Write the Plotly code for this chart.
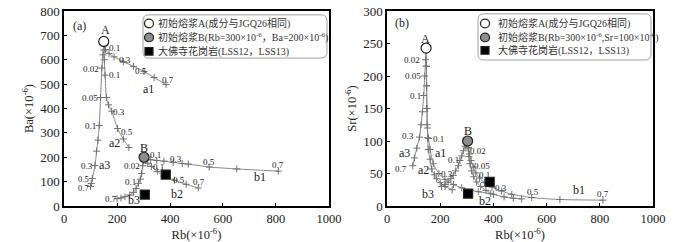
import plotly.graph_objects as go

# ---------------- Panel (a): Rb vs Ba ----------------
a_start_rb = [150]
a_start_ba = [675]
b_start_rb = [302]
b_start_ba = [200]

pa_a1_rb = [150, 153, 157, 170, 189, 224, 262, 302, 340, 385]
pa_a1_ba = [675, 660, 642, 625, 612, 592, 573, 552, 527, 498]
pa_a2_rb = [150, 151, 152, 155, 160, 168, 180, 202, 224, 245]
pa_a2_ba = [675, 640, 600, 537, 445, 415, 389, 318, 275, 240]
pa_a3_rb = [150, 147, 143, 138, 133, 128, 123, 117, 107, 103, 100]
pa_a3_ba = [675, 620, 566, 445, 330, 270, 225, 166, 113, 92, 80]
pa_b1_rb = [302, 327, 350, 377, 412, 446, 469, 548, 652, 809]
pa_b1_ba = [200, 190, 187, 184, 179, 174, 172, 160, 152, 143]
pa_b2_rb = [302, 308, 316, 330, 352, 377, 417, 461, 507]
pa_b2_ba = [200, 188, 175, 162, 142, 123, 106, 89, 74]
pa_b3_rb = [302, 300, 297, 293, 288, 281, 272, 262, 248, 230, 215, 200]
pa_b3_ba = [200, 185, 165, 133, 110, 93, 72, 56, 45, 38, 33, 30]
pa_sample_rb = [305, 384]
pa_sample_ba = [47, 129]

# ---------------- Panel (b): Rb vs Sr ----------------
a_start_sr_rb = [147]
a_start_sr = [243]
b_start_sr_rb = [303]
b_start_sr = [100]

pb_a1_rb = [147, 148, 149, 150, 152, 156, 162, 174, 195, 218, 250, 281, 343, 390]
pb_a1_sr = [243, 215, 185, 150, 120, 104, 87, 65, 50, 41, 33, 28, 22, 19]
pb_a2_rb = [147, 148, 149, 150, 151, 153, 155, 162, 168, 178, 187, 200, 218, 245]
pb_a2_sr = [243, 215, 185, 150, 125, 105, 87, 72, 57, 48, 42, 36, 30, 25]
pb_a3_rb = [147, 145, 142, 138, 133, 128, 122, 112, 103, 97]
pb_a3_sr = [243, 225, 200, 170, 145, 125, 106, 89, 74, 62]
pb_b1_rb = [303, 306, 310, 316, 324, 334, 348, 366, 395, 431, 469, 544, 650, 812]
pb_b1_sr = [100, 90, 80, 70, 60, 51, 43, 36, 29, 23, 18, 13, 10, 9]
pb_b2_rb = [303, 305, 308, 312, 318, 326, 337, 352, 372, 400, 440, 475, 506]
pb_b2_sr = [100, 88, 76, 65, 54, 45, 37, 30, 24, 18, 14, 12, 11]
pb_b3_rb = [303, 298, 293, 287, 281, 274, 268, 258, 249, 240, 230, 218, 205]
pb_b3_sr = [100, 96, 92, 85, 77, 70, 62, 54, 47, 42, 37, 33, 30]
pb_sample_rb = [305, 386]
pb_sample_sr = [19, 37]

# curve labels: (text, Rb, value, size)
labels_a = [
    ("(a)", 60, 740, 12), ("A", 155, 722, 12), ("B", 302, 240, 12),
    ("0.1", 190, 648, 9), ("0.3", 230, 600, 9), ("0.5", 292, 553, 9), ("0.7", 394, 516, 9),
    ("a1", 318, 478, 12),
    ("0.02", 101, 564, 9), ("0.1", 189, 537, 9), ("0.05", 98, 445, 9), ("0.3", 208, 386, 9),
    ("0.1", 101, 327, 9), ("0.5", 239, 304, 9), ("a2", 189, 258, 12),
    ("0.3", 86, 166, 9), ("a3", 153, 169, 12), ("0.5", 75, 112, 8.5), ("0.7", 75, 72, 8.5),
    ("0.1", 346, 211, 9), ("0.3", 421, 194, 9), ("0.5", 547, 181, 9), ("0.7", 809, 170, 9),
    ("b1", 740, 118, 12),
    ("0.02", 258, 166, 9), ("0.1", 358, 159, 9), ("0.5", 434, 106, 9), ("0.7", 509, 97, 9),
    ("b2", 428, 51, 12), ("0.1", 252, 100, 9), ("0.7", 176, 30, 9), ("b3", 264, 24, 12),
]
labels_b = [
    ("(b)", 55, 281, 12), ("A", 144, 257, 12), ("B", 303, 116, 12),
    ("0.02", 94, 225, 9), ("0.05", 96, 200, 9), ("0.1", 106, 170, 9), ("0.3", 80, 107, 9),
    ("0.1", 193, 103, 9), ("a3", 65, 82, 12), ("a1", 201, 81, 12), ("0.7", 53, 57, 9),
    ("a2", 139, 55, 12),
    ("0.02", 343, 84, 9), ("0.1", 249, 71, 9), ("0.05", 356, 61, 9), ("0.1", 366, 47, 9),
    ("0.3", 224, 50, 9), ("0.3", 429, 28, 9), ("0.5", 550, 22, 9), ("b1", 723, 25, 12),
    ("0.7", 813, 18, 9), ("b3", 155, 18, 12), ("b2", 368, 7, 12),
]

legend_rows_a = ["初始熔浆A(成分与JGQ26相同)",
                 "初始熔浆B(Rb=300×10<sup>-6</sup>，Ba=200×10<sup>-6</sup>)",
                 "大佛寺花岗岩(LSS12，LSS13)"]
legend_rows_b = ["初始熔浆A(成分与JGQ26相同)",
                 "初始熔浆B(Rb=300×10<sup>-6</sup>,Sr=100×10<sup>-6</sup>)",
                 "大佛寺花岗岩(LSS12，LSS13)"]

SERIF = "Liberation Serif, Noto Sans CJK SC"
CURVE = "#8a8a8a"

fig = go.Figure()

def add_curve(xs, ys, xa, ya):
    fig.add_trace(go.Scatter(
        x=xs, y=ys, mode="lines+markers", xaxis=xa, yaxis=ya,
        line=dict(color=CURVE, width=1, shape="spline", smoothing=0.7),
        marker=dict(symbol="cross-thin", size=5, line=dict(color="#707070", width=1)),
        showlegend=False, hoverinfo="skip"))

for xs, ys in [(pa_a1_rb, pa_a1_ba), (pa_a2_rb, pa_a2_ba), (pa_a3_rb, pa_a3_ba),
               (pa_b1_rb, pa_b1_ba), (pa_b2_rb, pa_b2_ba), (pa_b3_rb, pa_b3_ba)]:
    add_curve(xs, ys, "x", "y")
for xs, ys in [(pb_a1_rb, pb_a1_sr), (pb_a2_rb, pb_a2_sr), (pb_a3_rb, pb_a3_sr),
               (pb_b1_rb, pb_b1_sr), (pb_b2_rb, pb_b2_sr), (pb_b3_rb, pb_b3_sr)]:
    add_curve(xs, ys, "x2", "y2")

def add_points(xs, ys, xa, ya, sym, fill, size):
    fig.add_trace(go.Scatter(
        x=xs, y=ys, mode="markers", xaxis=xa, yaxis=ya,
        marker=dict(symbol=sym, size=size, color=fill, line=dict(color="#222", width=1.2)),
        showlegend=False, hoverinfo="skip"))

add_points(a_start_rb, a_start_ba, "x", "y", "circle", "white", 10)
add_points(b_start_rb, b_start_ba, "x", "y", "circle", "#8c8c8c", 10)
add_points(pa_sample_rb, pa_sample_ba, "x", "y", "square", "black", 9)
add_points(a_start_sr_rb, a_start_sr, "x2", "y2", "circle", "white", 10)
add_points(b_start_sr_rb, b_start_sr, "x2", "y2", "circle", "#8c8c8c", 10)
add_points(pb_sample_rb, pb_sample_sr, "x2", "y2", "square", "black", 9)

annotations = []
for lab, (xr, yr) in [(labels_a, ("x", "y")), (labels_b, ("x2", "y2"))]:
    for t, x, y, s in lab:
        annotations.append(dict(text=t, x=x, y=y, xref=xr, yref=yr, showarrow=False,
                                font=dict(family=SERIF, size=s, color="#222"),
                                xanchor="center", yanchor="middle"))

# legend boxes (decoration, pixel-based placement inside each panel)
TOP, BOT = 4, 207
panels = [dict(x0=64, x1=329, xr="x domain", yr="y domain", box=(143, 327, 8, 53),
               sym_x=149, txt_x=156, rows=(17, 31.5, 46), texts=legend_rows_a),
          dict(x0=387, x1=653, xr="x2 domain", yr="y2 domain", box=(478, 651, 7, 55),
               sym_x=485, txt_x=496, rows=(17, 31.5, 45), texts=legend_rows_b)]
shapes = []
for p in panels:
    w = p["x1"] - p["x0"]
    dx = lambda px, p=p, w=w: (px - p["x0"]) / w
    dy = lambda py: (BOT - py) / (BOT - TOP)
    bx0, bx1, by0, by1 = p["box"]
    r = 6
    path = (f"M {dx(bx0 + r)} {dy(by0)} L {dx(bx1 - r)} {dy(by0)} "
            f"Q {dx(bx1)} {dy(by0)} {dx(bx1)} {dy(by0 + r)} L {dx(bx1)} {dy(by1 - r)} "
            f"Q {dx(bx1)} {dy(by1)} {dx(bx1 - r)} {dy(by1)} L {dx(bx0 + r)} {dy(by1)} "
            f"Q {dx(bx0)} {dy(by1)} {dx(bx0)} {dy(by1 - r)} L {dx(bx0)} {dy(by0 + r)} "
            f"Q {dx(bx0)} {dy(by0)} {dx(bx0 + r)} {dy(by0)} Z")
    shapes.append(dict(type="path", path=path, xref=p["xr"], yref=p["yr"],
                       line=dict(color="#a0a0a0", width=1), fillcolor="white", layer="below"))
    sx = p["sym_x"]
    for i, (fill, kind) in enumerate([("white", "circle"), ("#8c8c8c", "circle"), ("black", "rect")]):
        cy = p["rows"][i]
        rad = 4.5 if kind == "circle" else 4
        shapes.append(dict(type=kind, xref=p["xr"], yref=p["yr"],
                           x0=dx(sx - rad), x1=dx(sx + rad), y0=dy(cy + rad), y1=dy(cy - rad),
                           fillcolor=fill, line=dict(color="#222", width=1.2)))
        annotations.append(dict(text=p["texts"][i], xref=p["xr"], yref=p["yr"],
                                x=dx(p["txt_x"]), y=dy(cy), xanchor="left", yanchor="middle",
                                showarrow=False, font=dict(family=SERIF, size=10, color="#333")))

axis_common = dict(showline=True, linecolor="black", linewidth=1.5, mirror=True,
                   ticks="inside", ticklen=3, tickcolor="black", showgrid=False, zeroline=False,
                   ticklabeloverflow="allow")
ytick_font = dict(family=SERIF, size=13, color="#222")
xtick_font = dict(family=SERIF, size=12.5, color="#222")
title_font = dict(family=SERIF, size=12.5, color="#222")

fig.update_layout(
    width=700, height=242,
    margin=dict(l=64, r=47, t=4, b=35),
    paper_bgcolor="white", plot_bgcolor="white",
    showlegend=False,
    xaxis=dict(domain=[0, 0.4499], range=[0, 1000], dtick=200, anchor="y", tickfont=xtick_font,
               title=dict(text="Rb(×10<sup>-6</sup>)", font=title_font, standoff=3), **axis_common),
    yaxis=dict(domain=[0, 1], range=[0, 800], dtick=100, anchor="x", tickfont=ytick_font,
               title=dict(text="Ba(×10<sup>-6</sup>)", font=title_font, standoff=4), **axis_common),
    xaxis2=dict(domain=[0.5484, 1], range=[0, 1000], dtick=200, anchor="y2", tickfont=xtick_font,
                title=dict(text="Rb(×10<sup>-6</sup>)", font=title_font, standoff=3), **axis_common),
    yaxis2=dict(domain=[0, 1], range=[0, 300], dtick=50, anchor="x2", tickfont=ytick_font,
                title=dict(text="Sr(×10<sup>-6</sup>)", font=title_font, standoff=4), **axis_common),
    annotations=annotations,
    shapes=shapes,
)

fig.write_html("out.html", config={"displayModeBar": False},
               post_script="document.body.style.margin='0';document.body.style.padding='0';")
